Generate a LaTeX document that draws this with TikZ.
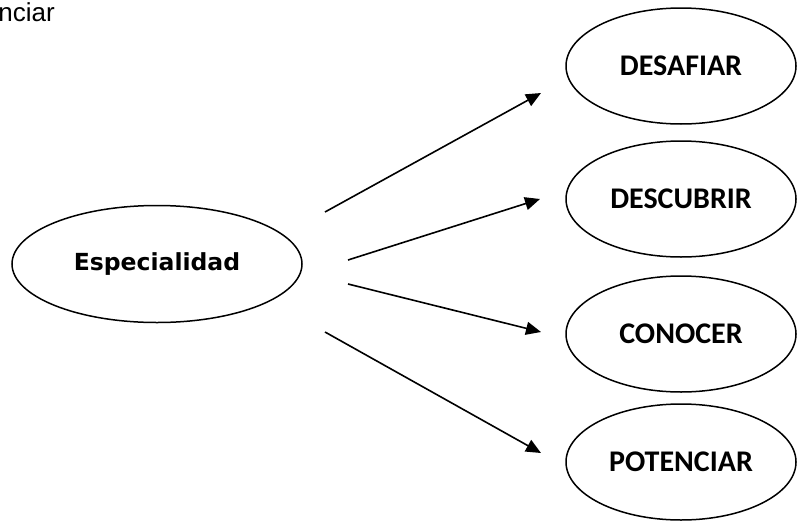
\documentclass[tikz,border=0pt]{standalone}
\usepackage{fontspec}
\setmainfont{Liberation Sans}
\newfontfamily\labfont{Carlito}
\newfontfamily\mainlab{DejaVu Sans}
\usetikzlibrary{arrows.meta,shapes.geometric}
\begin{document}
\begin{tikzpicture}[x=1pt,y=-1pt,
  oval/.style={draw,line width=1.5pt,ellipse,minimum width=230pt,minimum height=116pt,inner sep=0pt},
  caplab/.style={font=\labfont\bfseries\fontsize{30}{34}\selectfont},
  conn/.style={line width=1.6pt,-{Triangle[length=15pt,width=13pt]}}]
\useasboundingbox (0,0) rectangle (797,522);
\clip (0,0) rectangle (797,522);
\node[anchor=base east,font=\fontsize{26}{30}\selectfont,inner sep=0pt] (top) at (55,21) {Potenciar};
\node[oval,minimum width=290pt,minimum height=117pt,font=\mainlab\bfseries\fontsize{23.5}{28}\selectfont] (esp) at (157,264) {Especialidad};
\node[oval,caplab] (des) at (681,66) {DESAFIAR};
\node[oval,caplab] (dsc) at (681,199) {DESCUBRIR};
\node[oval,caplab] (con) at (681,334) {CONOCER};
\node[oval,caplab] (pot) at (681,462) {POTENCIAR};
\coordinate (a1) at (325,212);
\coordinate (a2) at (348,260);
\coordinate (a3) at (348,284);
\coordinate (a4) at (325,332);
\coordinate (t1) at (541,93);
\coordinate (t2) at (540,199);
\coordinate (t3) at (541,332);
\coordinate (t4) at (541,453);
\draw[conn] (a1) -- (t1);
\draw[conn] (a2) -- (t2);
\draw[conn] (a3) -- (t3);
\draw[conn] (a4) -- (t4);
\end{tikzpicture}
\end{document}
